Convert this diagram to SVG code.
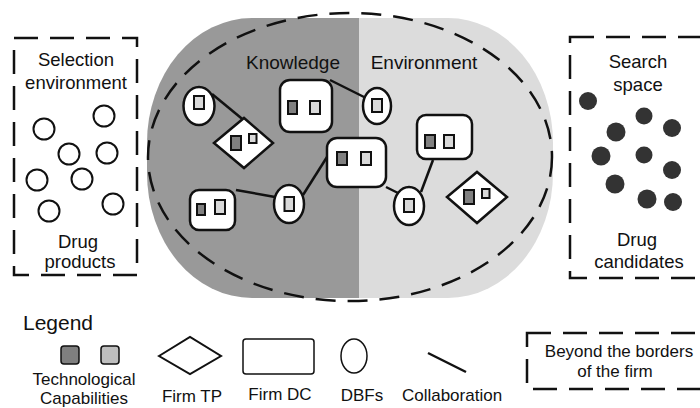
<svg xmlns="http://www.w3.org/2000/svg" width="700" height="408" viewBox="0 0 700 408">
<style>
text{font-family:"Liberation Sans",Arial,sans-serif;fill:#111;text-anchor:middle}
.lbl{font-size:18.5px}
.leg{font-size:17px}
.box{fill:none;stroke:#111;stroke-width:2.5;stroke-dasharray:24 12}
.pc{fill:#fff;stroke:#111;stroke-width:2}
.dot{fill:#333}
.dbf,.dc,.tp{fill:#fff;stroke:#111;stroke-width:2.5}
.cd{fill:#808080;stroke:#111;stroke-width:2}
.cl{fill:#d9d9d9;stroke:#111;stroke-width:2}
.con line{stroke:#111;stroke-width:2.5}
</style>
<defs>
<clipPath id="shape"><rect x="147" y="18" width="406" height="280" rx="105" ry="125"/></clipPath>
</defs>
<rect width="700" height="408" fill="#fff"/>

<g id="environment-area">
<g clip-path="url(#shape)">
<rect x="140" y="10" width="220" height="300" fill="#999"/>
<rect x="359" y="10" width="200" height="300" fill="#dcdcdc"/>
</g>
<ellipse cx="350" cy="157" rx="202" ry="144" fill="none" stroke="#111" stroke-width="2.5" stroke-dasharray="20 12"/>
<text x="293" y="69" style="font-size:19px">Knowledge</text>
<text x="424" y="69" style="font-size:19px">Environment</text>
</g>

<g id="selection-environment">
<rect class="box" x="14" y="38" width="123" height="237"/>
<text class="lbl" x="76" y="66">Selection</text>
<text class="lbl" x="76" y="89">environment</text>
<circle class="pc" cx="44" cy="129" r="10.5"/>
<circle class="pc" cx="104" cy="116" r="10.5"/>
<circle class="pc" cx="69" cy="154" r="10.5"/>
<circle class="pc" cx="107" cy="153" r="10.5"/>
<circle class="pc" cx="37" cy="180" r="10.5"/>
<circle class="pc" cx="82" cy="179" r="10.5"/>
<circle class="pc" cx="49" cy="211" r="10.5"/>
<circle class="pc" cx="113" cy="204" r="10.5"/>
<text class="lbl" x="78" y="248">Drug</text>
<text class="lbl" x="80" y="268">products</text>
</g>

<g id="search-space">
<rect class="box" x="570" y="37" width="140" height="241"/>
<text class="lbl" x="638" y="68">Search</text>
<text class="lbl" x="638" y="91">space</text>
<circle class="dot" cx="588" cy="101" r="9"/>
<circle class="dot" cx="644" cy="116" r="8.5"/>
<circle class="dot" cx="616" cy="132" r="9.5"/>
<circle class="dot" cx="672" cy="128" r="9"/>
<circle class="dot" cx="601" cy="156" r="9.5"/>
<circle class="dot" cx="644" cy="155" r="8.5"/>
<circle class="dot" cx="672" cy="170" r="9"/>
<circle class="dot" cx="615" cy="184" r="9.5"/>
<circle class="dot" cx="647" cy="199" r="9.5"/>
<circle class="dot" cx="673" cy="202" r="9"/>
<text class="lbl" x="637" y="246">Drug</text>
<text class="lbl" x="639" y="268">candidates</text>
</g>

<g id="connectors" class="con">
<line x1="212" y1="94" x2="252" y2="127"/>
<line x1="330" y1="80" x2="366" y2="98"/>
<line x1="236" y1="190" x2="275" y2="197"/>
<line x1="303" y1="195" x2="327" y2="157"/>
<line x1="386" y1="187" x2="400" y2="194"/>
<line x1="421" y1="192" x2="433" y2="160"/>
</g>

<g id="dbf1"><ellipse class="dbf" cx="199" cy="106" rx="15.5" ry="19"/><rect class="cl" x="194" y="96" width="10" height="13"/></g>
<g id="dbf2"><ellipse class="dbf" cx="377" cy="106" rx="14" ry="18"/><rect class="cl" x="372" y="99" width="10" height="13"/></g>
<g id="dbf3"><ellipse class="dbf" cx="289" cy="204" rx="15" ry="19"/><rect class="cl" x="284.5" y="197" width="9.5" height="14"/></g>
<g id="dbf4"><ellipse class="dbf" cx="409" cy="206" rx="15" ry="19"/><rect class="cl" x="404" y="199" width="10" height="13"/></g>

<g id="dc1"><rect class="dc" x="280" y="80" width="52" height="52" rx="10"/><rect class="cd" x="288" y="101" width="9" height="13"/><rect class="cl" x="310" y="101" width="10" height="13"/></g>
<g id="dc2"><rect class="dc" x="327" y="138" width="59" height="49" rx="10"/><rect class="cd" x="337" y="152" width="10" height="13"/><rect class="cl" x="361" y="152" width="10" height="13"/></g>
<g id="dc3"><rect class="dc" x="190" y="190" width="45" height="40" rx="9"/><rect class="cd" x="197" y="204" width="8" height="11"/><rect class="cl" x="215" y="200" width="10" height="14"/></g>
<g id="dc4"><rect class="dc" x="417" y="115" width="55" height="44" rx="9"/><rect class="cd" x="425" y="135" width="10" height="13"/><rect class="cl" x="444" y="135" width="10" height="13"/></g>

<g id="tp1"><polygon class="tp" points="214,143 244,118 273,143 244,168"/><rect class="cd" x="231" y="136" width="10" height="14"/><rect class="cl" x="249" y="134" width="7.5" height="9"/></g>
<g id="tp2"><polygon class="tp" points="447,197 477,172 507,197 477,223"/><rect class="cd" x="464" y="190" width="10" height="14"/><rect class="cl" x="482" y="189" width="7.5" height="9"/></g>

<g id="legend">
<text x="58" y="330" style="font-size:21px">Legend</text>
<rect x="61" y="346" width="18" height="18" rx="3" fill="#7f7f7f" stroke="#111" stroke-width="1.5"/>
<rect x="101" y="346" width="18" height="18" rx="3" fill="#bfbfbf" stroke="#111" stroke-width="1.5"/>
<text class="leg" x="84" y="385">Technological</text>
<text class="leg" x="84" y="404">Capabilities</text>
<polygon points="159,356 190,337 221,356 190,374" fill="#fff" stroke="#111" stroke-width="2"/>
<text class="leg" x="192" y="402">Firm TP</text>
<rect x="243" y="339" width="71" height="35" rx="3" fill="#fff" stroke="#111" stroke-width="1.5"/>
<text class="leg" x="280" y="400">Firm DC</text>
<ellipse cx="354" cy="356" rx="13" ry="17" fill="#fff" stroke="#111" stroke-width="1.5"/>
<text class="leg" x="362" y="401">DBFs</text>
<line x1="428" y1="353" x2="466" y2="372" stroke="#111" stroke-width="2.5"/>
<text class="leg" x="452" y="401">Collaboration</text>
<rect class="box" x="527" y="333" width="185" height="56"/>
<text class="leg" x="619" y="357">Beyond the borders</text>
<text class="leg" x="615" y="377">of the firm</text>
</g>
</svg>
